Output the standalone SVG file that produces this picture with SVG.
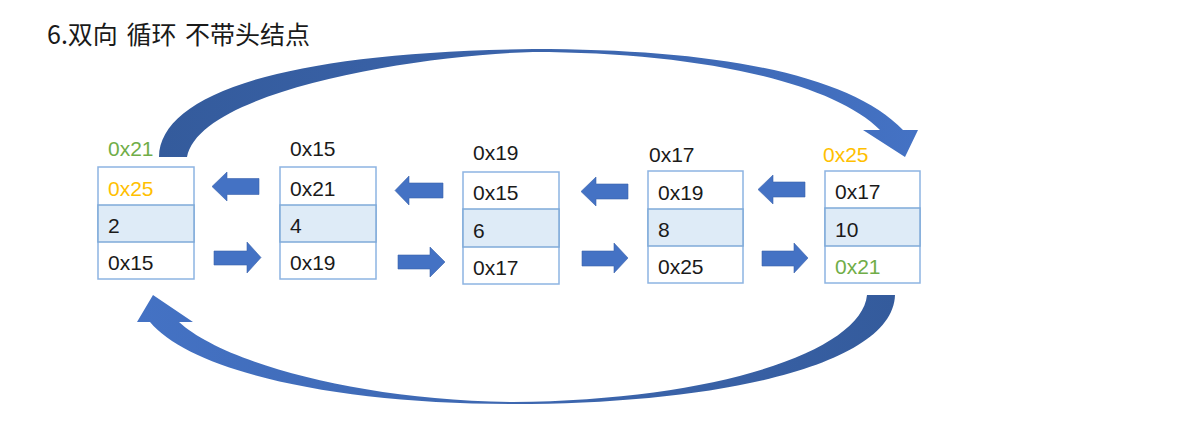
<svg xmlns="http://www.w3.org/2000/svg" width="1185" height="421" viewBox="0 0 1185 421">
  <style>
    .t { font-family: "Liberation Sans", Arial, sans-serif; font-size: 21px; fill: #1a1a1a; }
    .g { fill: #70AD47; }
    .o { fill: #FFC000; }
    .title { font-family: "Noto Sans CJK SC", "Noto Sans", sans-serif; font-size: 25px; word-spacing: 3px; fill: #1a1a1a; }
    .box { fill: #ffffff; stroke: #8DB4E2; stroke-width: 1.5; }
    .mid { fill: #DEEBF7; stroke: #7FAAD9; stroke-width: 1.5; }
    .blk { fill: #4472C4; stroke: #3B63AD; stroke-width: 0.6; }
  </style>
  <defs>
    <linearGradient id="gTop" gradientUnits="userSpaceOnUse" x1="159" y1="0" x2="918" y2="0">
      <stop offset="0" stop-color="#345B9C"/>
      <stop offset="0.5" stop-color="#3B64AB"/>
      <stop offset="1" stop-color="#4472C4"/>
    </linearGradient>
    <linearGradient id="gBot" gradientUnits="userSpaceOnUse" x1="137" y1="0" x2="895" y2="0">
      <stop offset="0" stop-color="#4472C4"/>
      <stop offset="0.5" stop-color="#3D67B0"/>
      <stop offset="1" stop-color="#345B9C"/>
    </linearGradient>
  </defs>
  <rect width="1185" height="421" fill="#ffffff"/>
  <text class="title" x="47" y="44">6.双向 循环 不带头结点</text>

  <g id="connectors">
    <path fill="url(#gTop)" d="M159,157 C160,95 280,52 533,49 C720,49 850,75 903,130 L918,130 L905,157 L863,130 L880,130 C830,80 690,52 533,52 C420,55 200,90 187,157 Z"/>
    <path fill="url(#gBot)" d="M150,322 C190,370 330,404 513,404 C720,404 893,365 895,295 L867,295 C862,350 720,400 513,402 C350,400 220,360 179,322 L193,322 L153,295 L137,322 Z"/>
    <!-- left (prev) arrows -->
    <path class="blk" d="M212,186.5 L227,172 L227,178.5 L259,178.5 L259,194.5 L227,194.5 L227,201 Z"/>
    <path class="blk" d="M395,190.5 L409,176 L409,183 L443,183 L443,198 L409,198 L409,205 Z"/>
    <path class="blk" d="M581,191.5 L596,177 L596,184 L628,184 L628,199 L596,199 L596,206 Z"/>
    <path class="blk" d="M758,189.5 L773,175 L773,182 L805,182 L805,197 L773,197 L773,204 Z"/>
    <!-- right (next) arrows -->
    <path class="blk" d="M214,251 L247,251 L247,242 L261,257.5 L247,273 L247,265 L214,265 Z"/>
    <path class="blk" d="M398,255 L430,255 L430,247 L445,262 L430,277 L430,269 L398,269 Z"/>
    <path class="blk" d="M582,251 L614,251 L614,243 L628,258 L614,273 L614,266 L582,266 Z"/>
    <path class="blk" d="M762,251 L794,251 L794,243 L808,258 L794,273 L794,266 L762,266 Z"/>
  </g>

  <g id="node1">
    <text class="t g" x="108" y="156">0x21</text>
    <rect class="box" x="98" y="167" width="96" height="112"/>
    <rect class="mid" x="98" y="205" width="96" height="37"/>
    <text class="t o" x="108" y="195.5">0x25</text>
    <text class="t" x="108" y="233">2</text>
    <text class="t" x="108" y="270">0x15</text>
  </g>
  <g id="node2">
    <text class="t" x="290" y="156">0x15</text>
    <rect class="box" x="280" y="167" width="96" height="112"/>
    <rect class="mid" x="280" y="205" width="96" height="37"/>
    <text class="t" x="290" y="195.5">0x21</text>
    <text class="t" x="290" y="233">4</text>
    <text class="t" x="290" y="270">0x19</text>
  </g>
  <g id="node3">
    <text class="t" x="473" y="160">0x19</text>
    <rect class="box" x="463" y="172" width="96" height="112"/>
    <rect class="mid" x="463" y="209" width="96" height="38"/>
    <text class="t" x="473" y="200">0x15</text>
    <text class="t" x="473" y="237.5">6</text>
    <text class="t" x="473" y="275">0x17</text>
  </g>
  <g id="node4">
    <text class="t" x="649" y="162">0x17</text>
    <rect class="box" x="648" y="171" width="95" height="112"/>
    <rect class="mid" x="648" y="209" width="95" height="37"/>
    <text class="t" x="658" y="199.5">0x19</text>
    <text class="t" x="658" y="237">8</text>
    <text class="t" x="658" y="274">0x25</text>
  </g>
  <g id="node5">
    <text class="t o" x="823" y="162">0x25</text>
    <rect class="box" x="825" y="171" width="95" height="112"/>
    <rect class="mid" x="825" y="208" width="95" height="38"/>
    <text class="t" x="835" y="199">0x17</text>
    <text class="t" x="835" y="236.5">10</text>
    <text class="t g" x="835" y="274">0x21</text>
  </g>
</svg>
